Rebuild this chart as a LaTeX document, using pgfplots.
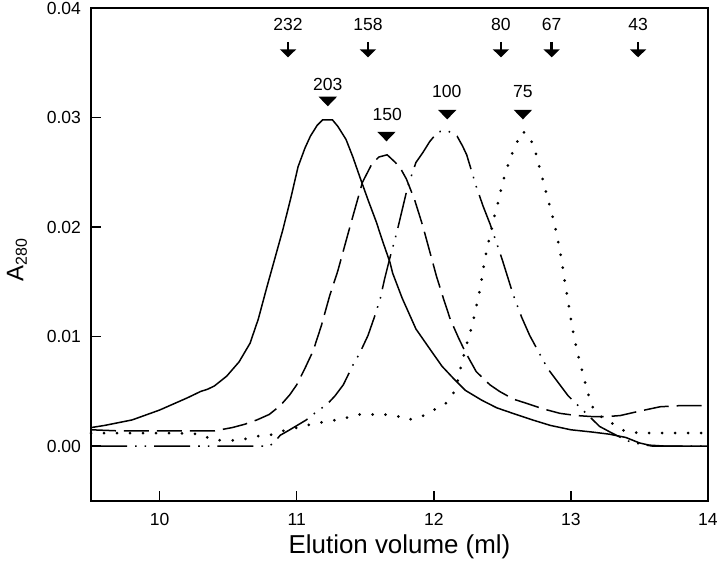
\documentclass[border=0pt]{standalone}
\usepackage{fontspec}
\setmainfont{Liberation Sans}
\usepackage{pgfplots}
\pgfplotsset{compat=1.18}
\usetikzlibrary{arrows.meta}

% elution profiles
\pgfplotstableread{
x y
9.5 0.0017
9.6 0.0019
9.8 0.0024
10.0 0.0033
10.2 0.0044
10.3 0.0050
10.35 0.0052
10.4 0.0055
10.49 0.0064
10.58 0.0077
10.66 0.0094
10.72 0.0116
10.78 0.0144
10.84 0.0171
10.9 0.0198
10.96 0.0228
11.01 0.0255
11.06 0.0272
11.1 0.0283
11.15 0.0293
11.19 0.0298
11.26 0.0298
11.3 0.0292
11.36 0.0280
11.41 0.0264
11.46 0.0246
11.52 0.0225
11.58 0.0205
11.63 0.0186
11.68 0.0168
11.7 0.0158
11.77 0.0135
11.87 0.0107
11.97 0.0089
12.06 0.0073
12.15 0.0061
12.23 0.0051
12.35 0.0042
12.46 0.0035
12.6 0.0029
12.72 0.0024
12.85 0.0019
13.0 0.0015
13.15 0.0013
13.28 0.0011
13.4 0.0008
13.5 0.0003
13.57 0.0001
13.7 0.0
14.0 0.0
}\solid

\pgfplotstableread{
x y
9.5 0.0015
9.7 0.0014
10.0 0.0014
10.2 0.0014
10.4 0.0014
10.53 0.0017
10.62 0.0020
10.71 0.0024
10.8 0.0029
10.88 0.0037
10.95 0.0047
11.0 0.0056
11.06 0.0071
11.12 0.0087
11.18 0.0110
11.24 0.0137
11.3 0.0160
11.39 0.0201
11.48 0.0241
11.55 0.0258
11.6 0.0264
11.66 0.0266
11.72 0.0259
11.76 0.0253
11.8 0.0244
11.86 0.0225
11.92 0.0201
11.97 0.0178
12.02 0.0155
12.07 0.0135
12.12 0.0116
12.18 0.0099
12.23 0.0086
12.31 0.0068
12.41 0.0056
12.48 0.0050
12.58 0.0043
12.68 0.0039
12.8 0.0034
12.92 0.0030
13.04 0.0028
13.16 0.0027
13.26 0.0027
13.36 0.0028
13.5 0.0032
13.65 0.0036
13.79 0.0037
14.0 0.0037
}\dashed

\pgfplotstableread{
x y
9.5 0.0
10.8 0.0
10.84 0.0004
10.88 0.0010
10.95 0.0015
11.07 0.0024
11.15 0.0032
11.22 0.0038
11.28 0.0046
11.34 0.0056
11.41 0.0074
11.46 0.0085
11.52 0.0101
11.57 0.0119
11.61 0.0135
11.64 0.0152
11.68 0.0172
11.73 0.0195
11.77 0.0216
11.81 0.0237
11.87 0.0259
11.92 0.0268
11.97 0.0278
12.03 0.0287
12.1 0.0288
12.17 0.0283
12.21 0.0274
12.24 0.0266
12.31 0.0237
12.36 0.0219
12.41 0.0203
12.5 0.0170
12.58 0.0138
12.64 0.0118
12.7 0.0101
12.83 0.0071
12.98 0.0046
13.07 0.0035
13.21 0.0018
13.3 0.0012
13.41 0.0005
13.5 0.0002
13.6 0.0
14.0 0.0
}\dashdot

\pgfplotstableread{
x y
9.5 0.0012
9.8 0.0012
10.1 0.0012
10.3 0.0011
10.38 0.0006
10.5 0.0005
10.6 0.0006
10.7 0.0009
10.8 0.0010
10.9 0.0014
11.04 0.0018
11.14 0.0021
11.24 0.0023
11.34 0.0025
11.44 0.0029
11.53 0.0029
11.63 0.0029
11.72 0.0028
11.81 0.0024
11.91 0.0027
12.0 0.0033
12.1 0.0040
12.15 0.0050
12.18 0.0062
12.2 0.0074
12.25 0.0098
12.28 0.0110
12.3 0.0122
12.32 0.0133
12.34 0.0145
12.355 0.0157
12.37 0.0169
12.39 0.0182
12.42 0.0197
12.45 0.0214
12.48 0.0228
12.5 0.0240
12.53 0.0252
12.56 0.0264
12.6 0.0275
12.64 0.0287
12.68 0.0286
12.73 0.0274
12.78 0.0250
12.83 0.0227
12.88 0.0203
12.92 0.0179
12.95 0.0155
12.98 0.0132
13.01 0.0108
13.05 0.0084
13.1 0.0060
13.15 0.0037
13.22 0.0027
13.3 0.0021
13.39 0.0014
13.5 0.0012
14.0 0.0012
}\dotted

\begin{document}
\begin{tikzpicture}
\begin{axis}[
  scale only axis,
  width=308.5bp, height=246.5bp,
  xmin=9.5, xmax=14,
  ymin=-0.005, ymax=0.04,
  xtick={10,11,12,13,14},
  ytick={0,0.01,0.02,0.03,0.04},
  scaled y ticks=false,
  yticklabel style={xshift=-1.5bp,
    /pgf/number format/fixed,
    /pgf/number format/fixed zerofill,
    /pgf/number format/precision=2},
  /pgf/number format/assume math mode=true,
  tick pos=left,
  tick align=inside,
  major tick length=5bp,
  tick style={black, line width=0.8bp},
  axis line style={line width=0.9bp},
  ticklabel style={font=\fontsize{8.8}{10}\selectfont},
  xticklabel style={yshift=-2.5bp},
  xlabel={Elution volume (ml)},
  xlabel style={at={(axis description cs:0.5,-0.0933)}, anchor=center,
    font=\fontsize{13}{15}\selectfont},
  ylabel={A\textsubscript{280}},
  ylabel style={at={(axis description cs:-0.12,0.49)}, anchor=center,
    font=\fontsize{12}{14}\selectfont},
  every axis plot/.append style={black, line width=0.75bp},
  clip=false,
]
\addplot[solid] table {\solid};
\addplot[dash pattern=on 12.5bp off 4bp] table {\dashed};
\addplot[dash pattern=on 18bp off 4bp on 0.8bp off 4bp on 0.8bp off 4bp] table {\dashdot};
\addplot[line width=1.5bp, line cap=round, dash pattern=on 0bp off 6.5bp] table {\dotted};

% calibration standards (arrows) and peak positions (triangles)
\addplot[quiver={u=0, v=-0.0014}, line width=1.3bp,
  -{Triangle[width=8bp, length=4bp]}] coordinates {
  (10.937,0.0369) (11.52,0.0369) (12.49,0.0369) (12.86,0.0369) (13.49,0.0369)};
\addplot[only marks, mark=triangle*, mark size=4.3bp,
  mark options={yscale=-0.6, fill=black}] coordinates {
  (11.227,0.0316) (11.655,0.0284) (12.098,0.0304) (12.65,0.0304)};

\begin{scope}[every node/.style={font=\fontsize{8.8}{10}\selectfont}]
\node at (axis cs:10.937,0.0385) {232};
\node at (axis cs:11.52,0.0385) {158};
\node at (axis cs:12.49,0.0385) {80};
\node at (axis cs:12.86,0.0385) {67};
\node at (axis cs:13.49,0.0385) {43};
\node at (axis cs:11.227,0.0330) {203};
\node at (axis cs:11.66,0.0303) {150};
\node at (axis cs:12.095,0.0324) {100};
\node at (axis cs:12.65,0.0324) {75};
\end{scope}

\coordinate (bbsw) at (rel axis cs:-0.1475,-0.14604);
\coordinate (bbne) at (rel axis cs:1.01945,1.01623);
\end{axis}
\pgfresetboundingbox
\path[use as bounding box] (bbsw) rectangle (bbne);
\end{tikzpicture}
\end{document}
